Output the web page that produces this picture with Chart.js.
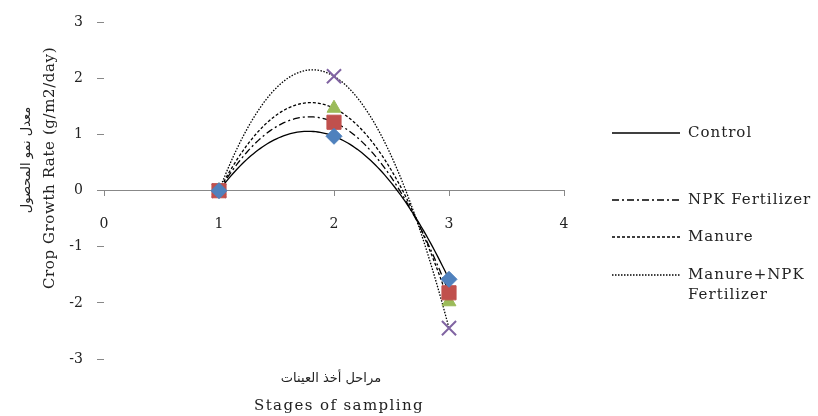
<!DOCTYPE html>
<html>
<head>
<meta charset="utf-8">
<script src="https://cdn.jsdelivr.net/npm/chart.js@4.4.1/dist/chart.umd.min.js"></script>
<style>
  html, body { margin: 0; padding: 0; background: #fff; overflow: hidden; }
  #wrap { position: relative; width: 818px; height: 416px; }
  #myCanvas { position: absolute; left: 0; top: 0; }
  .txt { position: absolute; font-family: "DejaVu Serif", "DejaVu Sans", serif; color: #222; white-space: nowrap; }
  .rot { transform: translate(-50%, -50%) rotate(-90deg); }
  .ctr { transform: translate(-50%, -50%); }
  .leg { position: absolute; left: 612px; width: 206px; height: 20px; }
  .leg svg { position: absolute; left: 0; top: 0; }
  .leg span { position: absolute; left: 76px; top: -1px; font-size: 15px; letter-spacing: 1px; line-height: 20px; }
</style>
</head>
<body>
<div id="wrap">
  <canvas id="myCanvas" width="818" height="416"></canvas>

  <!-- axis titles -->
  <div class="txt rot" style="left:25px; top:160px; font-size:13px;">معدل نمو المحصول</div>
  <div class="txt rot" style="left:49px; top:168px; font-size:15px; letter-spacing:0.6px;">Crop Growth Rate (g/m2/day)</div>
  <div class="txt ctr" style="left:331px; top:377px; font-size:13px;">مراحل أخذ العينات</div>
  <div class="txt ctr" style="left:339px; top:405px; font-size:15px; letter-spacing:1.4px;">Stages of sampling</div>

  <!-- legend (trendlines only, like the original) -->
  <div class="leg" style="top:123px;">
    <svg width="70" height="20"><line x1="0" y1="10" x2="68" y2="10" stroke="#000" stroke-width="1.5"/></svg>
    <span class="txt">Control</span>
  </div>
  <div class="leg" style="top:190px;">
    <svg width="70" height="20"><line x1="0" y1="10" x2="68" y2="10" stroke="#000" stroke-width="1.3" stroke-dasharray="7,3,2,3"/></svg>
    <span class="txt">NPK Fertilizer</span>
  </div>
  <div class="leg" style="top:227px;">
    <svg width="70" height="20"><line x1="0" y1="10" x2="68" y2="10" stroke="#000" stroke-width="1.3" stroke-dasharray="3,2"/></svg>
    <span class="txt">Manure</span>
  </div>
  <div class="leg" style="top:265px;">
    <svg width="70" height="20"><line x1="0" y1="10" x2="68" y2="10" stroke="#000" stroke-width="1.3" stroke-dasharray="1.5,1.5"/></svg>
    <span class="txt">Manure+NPK<br>Fertilizer</span>
  </div>
</div>

<script>
// data
const stages = [1, 2, 3];
const control = [0, 0.97, -1.58];
const npk = [0, 1.22, -1.82];
const manure = [0, 1.47, -1.98];
const manureNpk = [0, 2.04, -2.45];
const yTicks = [-3, -2, -1, 0, 1, 2, 3];
const xTicks = [0, 1, 2, 3, 4];

const series = [
  { label: 'Control', values: control, color: '#4F81BD', style: 'rectRot', r: 8, dash: [] },
  { label: 'NPK Fertilizer', values: npk, color: '#C0504D', style: 'rect', r: 10, dash: [7, 3, 2, 3] },
  { label: 'Manure', values: manure, color: '#9BBB59', style: 'triangle', r: 8, dash: [3, 2] },
  { label: 'Manure+NPK Fertilizer', values: manureNpk, color: '#8064A2', style: 'crossRot', r: 10, dash: [1.5, 1.5] }
];

// 2nd order polynomial fit (least squares), like the excel trendline
function fitQuad(xs, ys){
  let s = [0, 0, 0, 0, 0], t = [0, 0, 0];
  xs.forEach((x, i)=>{
    for(let k = 0; k < 5; k++) s[k] += Math.pow(x, k);
    for(let k = 0; k < 3; k++) t[k] += ys[i] * Math.pow(x, k);
  });
  const m = [[s[0], s[1], s[2]], [s[1], s[2], s[3]], [s[2], s[3], s[4]]];
  const det = (a)=> a[0][0]*(a[1][1]*a[2][2]-a[1][2]*a[2][1]) - a[0][1]*(a[1][0]*a[2][2]-a[1][2]*a[2][0]) + a[0][2]*(a[1][0]*a[2][1]-a[1][1]*a[2][0]);
  const d = det(m);
  const coef = [0, 1, 2].map((col)=>{
    const mm = m.map((row, r)=> row.map((v, c)=> c === col ? t[r] : v));
    return det(mm) / d;
  });
  return coef; // c0 + c1 x + c2 x^2
}

const trendlines = {
  id: 'trendlines',
  beforeDatasetsDraw(chart){
    const ctx = chart.ctx, xs = chart.scales.x, ys = chart.scales.y;
    const lo = Math.min(...stages), hi = Math.max(...stages);
    series.forEach((s)=>{
      const c = fitQuad(stages, s.values);
      ctx.save();
      ctx.strokeStyle = '#000';
      ctx.lineWidth = 1.3;
      ctx.setLineDash(s.dash);
      ctx.beginPath();
      for(let x = lo; x <= hi + 1e-9; x += 0.02){
        const px = xs.getPixelForValue(x), py = ys.getPixelForValue(c[0] + c[1]*x + c[2]*x*x);
        if(x === lo) ctx.moveTo(px, py); else ctx.lineTo(px, py);
      }
      ctx.stroke();
      ctx.restore();
    });
  }
};

const tickFont = { family: 'DejaVu Serif', size: 14 };

const ctx = document.querySelector('#myCanvas').getContext('2d');
const myChart = new Chart(ctx, {
  type: 'scatter',
  data: {
    datasets: series.map((s)=>({
      label: s.label,
      data: stages.map((x, i)=>({ x: x, y: s.values[i] })),
      pointStyle: s.style,
      pointRadius: s.r,
      pointHoverRadius: s.r,
      backgroundColor: s.color,
      borderColor: s.color,
      borderWidth: s.style === 'crossRot' ? 2 : 1,
      showLine: false
    }))
  },
  plugins: [trendlines],
  options: {
    responsive: false,
    animation: false,
    layout: { padding: { left: 0, top: 15, right: 254, bottom: 57 } },
    plugins: { legend: { display: false }, tooltip: { enabled: false } },
    scales: {
      x: {
        type: 'linear', min: 0, max: 4,
        position: { y: 0 },
        afterBuildTicks: (s)=>{ s.ticks = xTicks.map((v)=>({ value: v })); },
        afterFit: (s)=>{ s.height = 0; },
        ticks: { color: '#222', font: tickFont, padding: 20 },
        grid: { drawOnChartArea: false, tickLength: 5, color: '#888' },
        border: { color: '#888', width: 1 }
      },
      y: {
        min: -3, max: 3,
        afterBuildTicks: (s)=>{ s.ticks = yTicks.map((v)=>({ value: v })); },
        afterFit: (s)=>{ s.width = 104; },
        ticks: { color: '#222', font: tickFont, padding: 14 },
        grid: { drawOnChartArea: false, tickLength: 7, color: '#888' },
        border: { display: false }
      }
    }
  }
});
</script>
</body>
</html>
